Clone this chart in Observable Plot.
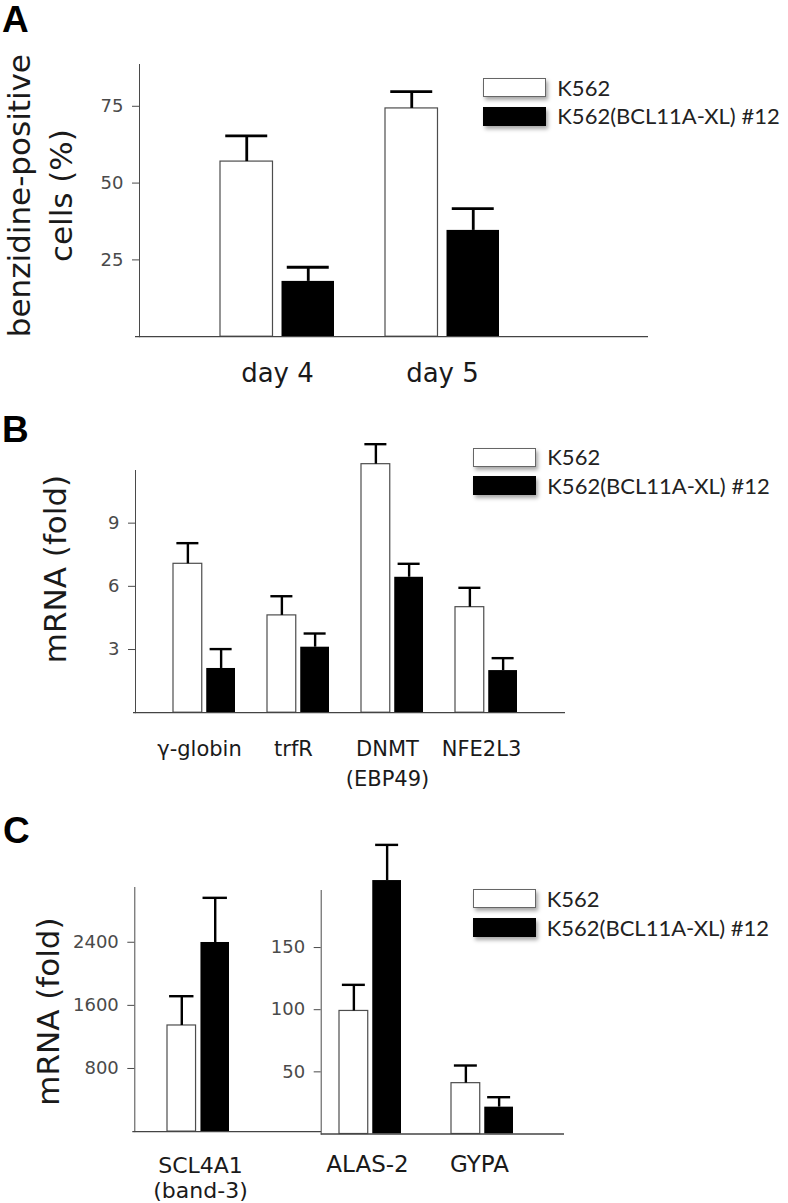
<!DOCTYPE html>
<html>
<head>
<meta charset="utf-8">
<script src="https://cdn.jsdelivr.net/npm/d3@7"></script>
<script src="https://cdn.jsdelivr.net/npm/@observablehq/plot@0.6"></script>
<style>
  body { margin: 0; background: #fff; }
  #root { position: relative; width: 788px; height: 1203px; overflow: hidden; }
  #root svg { position: absolute; left: 0; }
  .letter { position: absolute; font-family: "Liberation Sans", Arial, sans-serif; font-weight: bold; font-size: 37px; line-height: 37px; color: #000; }
  .lg-row { position: absolute; display: flex; align-items: center; height: 19px; }
  .sw { width: 63px; height: 19px; box-sizing: border-box; box-shadow: 2px 3px 4px rgba(0,0,0,0.35); }
  .sw.w { background: #fff; border: 1.3px solid #666; }
  .sw.b { background: #000; }
  .lg-row span { margin-left: 11px; font-family: Lato, sans-serif; font-size: 22px; line-height: 22px; color: #222; white-space: nowrap; }
</style>
</head>
<body>
<div id="root"></div>
<script>
// ---------- data ----------
const seriesNames = ["K562", "K562(BCL11A-XL) #12"];

// Panel A
const aGroups = ["day 4", "day 5"];
const aK562 = [57.0, 74.3];
const aK562Err = [8.4, 5.5];
const aBcl = [18.0, 34.6];
const aBclErr = [4.6, 7.1];
const aTicks = [25, 50, 75];
const aYLabel = "benzidine-positive\ncells (%)";

// Panel B
const bGroups = ["γ-globin", "trfR", "DNMT\n(EBP49)", "NFE2L3"];
const bK562 = [7.07, 4.62, 11.80, 5.01];
const bK562Err = [0.98, 0.91, 0.95, 0.92];
const bBcl = [2.10, 3.11, 6.43, 2.00];
const bBclErr = [0.92, 0.65, 0.64, 0.59];
const bTicks = [3, 6, 9];
const bYLabel = "mRNA (fold)";

// Panel C (two y axes)
const cLeftGroups = ["SCL4A1\n(band-3)"];
const cLeftK562 = [1345];
const cLeftK562Err = [371];
const cLeftBcl = [2397];
const cLeftBclErr = [566];
const cLeftTicks = [800, 1600, 2400];
const cRightGroups = ["ALAS-2", "GYPA"];
const cRightK562 = [99, 40.9];
const cRightK562Err = [21, 14.2];
const cRightBcl = [203.9, 21.6];
const cRightBclErr = [28.7, 8.0];
const cRightTicks = [50, 100, 150];
const cYLabel = "mRNA (fold)";

// ---------- drawing ----------
const root = document.getElementById("root");

function panel(o) {
  const bw = d3.scaleBand().domain(o.groups).range(o.xRange)
    .paddingInner(o.pad).paddingOuter(0).bandwidth();
  const barW = (bw - o.gap) / 2;
  const off = bw / 2 - barW / 2;
  const capIn = (barW - o.capW) / 2;
  const rows = (vals, errs, s) => o.groups.map((g, i) => ({group: g, series: s, value: vals[i], top: vals[i] + errs[i]}));
  const W = rows(o.k, o.kErr, seriesNames[0]);
  const B = rows(o.b, o.bErr, seriesNames[1]);
  const marks = [
    Plot.barY(W, {x: "group", y: "value", fill: "white", stroke: "#4d4d4d", strokeWidth: 1.2, insetLeft: 0, insetRight: bw - barW}),
    Plot.barY(B, {x: "group", y: "value", fill: "black", insetLeft: bw - barW, insetRight: 0}),
    Plot.ruleX(W, {x: "group", y1: "value", y2: "top", dx: -off, stroke: "black", strokeWidth: o.errW}),
    Plot.ruleX(B, {x: "group", y1: "value", y2: "top", dx: off, stroke: "black", strokeWidth: o.errW}),
    Plot.tickY(W, {x: "group", y: "top", insetLeft: capIn, insetRight: bw - barW + capIn, stroke: "black", strokeWidth: o.errW}),
    Plot.tickY(B, {x: "group", y: "top", insetLeft: bw - barW + capIn, insetRight: capIn, stroke: "black", strokeWidth: o.errW}),
    Plot.ruleY([0], {stroke: "#444", strokeWidth: 1.3, insetLeft: o.baseInset})
  ];
  marks.push(Plot.text(o.groups, {
    x: d => d, text: d => d, frameAnchor: "bottom", lineAnchor: "top", textAnchor: "middle",
    dy: o.labelDy, dx: o.labelDx || 0, fontSize: o.labelSize, lineHeight: o.labelLH, fill: "#1a1a1a"
  }));
  if (o.ylabel) {
    marks.push(Plot.text([o.ylabel], {
      text: d => d, frameAnchor: "left", textAnchor: "middle", lineAnchor: "middle", rotate: -90,
      dx: o.ylabelDx, dy: o.ylabelDy,
      fontSize: 31, lineHeight: o.ylabelLH || 1, fill: "#1a1a1a"
    }));
  }
  const svg = Plot.plot({
    width: 788, height: o.height,
    marginTop: o.mt, marginBottom: o.mb, marginLeft: o.ml, marginRight: o.mr,
    x: {domain: o.groups, range: o.xRange, paddingInner: o.pad, paddingOuter: 0, axis: null},
    y: {domain: o.yDomain, ticks: o.ticks, tickFormat: d3.format("d"), tickSize: 7, tickPadding: 9, line: true, label: null},
    style: {background: "transparent", overflow: "visible", fontFamily: "'DejaVu Sans', sans-serif", fontSize: "18px", color: "#4a4a4a"},
    marks
  });
  svg.style.top = o.top + "px";
  root.appendChild(svg);
}

// Panel A
panel({
  top: 0, height: 390, mt: 64, mb: 53.8, ml: 139, mr: 140,
  groups: aGroups, k: aK562, kErr: aK562Err, b: aBcl, bErr: aBclErr,
  yDomain: [0, 88.6], ticks: aTicks, xRange: [219, 500], pad: 0.307,
  gap: 8, capW: 43, errW: 2.8, baseInset: -4,
  labelDy: 23.6, labelSize: 26, labelLH: 1.2,
  ylabel: aYLabel, ylabelDx: -102, ylabelDy: -5, ylabelLH: 1.365
});

// Panel B
panel({
  top: 390, height: 410, mt: 80, mb: 87.8, ml: 135, mr: 223,
  groups: bGroups, k: bK562, kErr: bK562Err, b: bBcl, bErr: bBclErr,
  yDomain: [0, 11.5], ticks: bTicks, xRange: [172, 517], pad: 0.343,
  gap: 4.5, capW: 22, errW: 2.4, baseInset: -2,
  labelDy: 21.2, labelDx: -5, labelSize: 21, labelLH: 1.45,
  ylabel: bYLabel, ylabelDx: -79, ylabelDy: -22.6
});

// Panel C, left axis
panel({
  top: 800, height: 403, mt: 87, mb: 71.9, ml: 134.3, mr: 467,
  groups: cLeftGroups, k: cLeftK562, kErr: cLeftK562Err, b: cLeftBcl, bErr: cLeftBclErr,
  yDomain: [0, 3094], ticks: cLeftTicks, xRange: [166.7, 229.3], pad: 0,
  gap: 4.3, capW: 25, errW: 2.4, baseInset: -2,
  labelDy: 23, labelDx: 2, labelSize: 22, labelLH: 1.15,
  ylabel: cYLabel, ylabelDx: -85.4, ylabelDy: 2
});

// Panel C, right axis
panel({
  top: 800, height: 403, mt: 90, mb: 69.5, ml: 320.7, mr: 224,
  groups: cRightGroups, k: cRightK562, kErr: cRightK562Err, b: cRightBcl, bErr: cRightBclErr,
  yDomain: [0, 195.9], ticks: cRightTicks, xRange: [338.3, 512.7], pad: 0.448,
  gap: 4.5, capW: 23, errW: 2.4, baseInset: 0,
  labelDy: 21.2, labelDx: -3, labelSize: 23, labelLH: 1.0
});

// Panel letters
[["A", 2, 1], ["B", 2, 411], ["C", 3, 812]].forEach(([t, x, y]) => {
  const d = document.createElement("div");
  d.className = "letter"; d.textContent = t;
  d.style.left = x + "px"; d.style.top = y + "px";
  root.appendChild(d);
});

// Legends
function legend(x, y1, y2) {
  [[y1, "w", seriesNames[0]], [y2, "b", seriesNames[1]]].forEach(([y, cls, label]) => {
    const row = document.createElement("div");
    row.className = "lg-row";
    row.style.left = x + "px"; row.style.top = y + "px";
    const sw = document.createElement("div"); sw.className = "sw " + cls;
    const sp = document.createElement("span"); sp.textContent = label;
    row.appendChild(sw); row.appendChild(sp);
    root.appendChild(row);
  });
}
legend(483.3, 78.3, 106.7);
legend(473.3, 447.7, 476);
legend(472.7, 889.3, 918.3);
</script>
</body>
</html>
